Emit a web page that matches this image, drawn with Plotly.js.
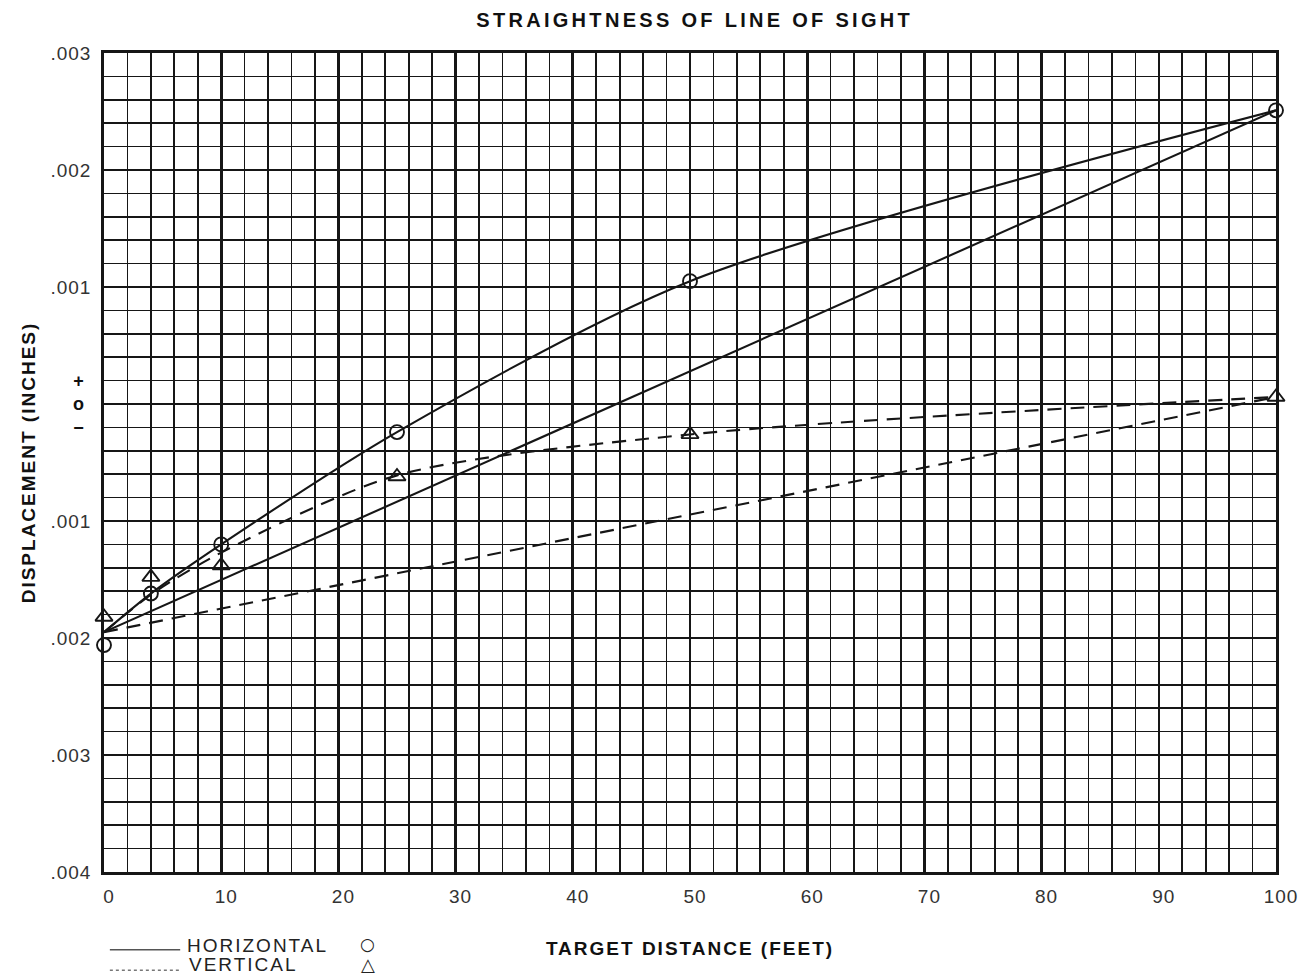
<!DOCTYPE html>
<html>
<head>
<meta charset="utf-8">
<script src="https://cdn.plot.ly/plotly-3.0.1.min.js"></script>
<style>
  html, body { margin: 0; padding: 0; background: #fff; }
  #chart { width: 1306px; height: 974px; }
  #chart .gtitle { letter-spacing: 3.3px; }
  #chart .xtitle, #chart .ytitle { letter-spacing: 2px; }
  #chart .xtick text, #chart .ytick text { letter-spacing: 1px; }
</style>
</head>
<body>
<div id="chart"></div>
<script>
// ---- data ----
const distance = [0, 4, 10, 25, 50, 100];                 // target distance (feet)
const horizPoints = [-0.00206, -0.00162, -0.00120, -0.00024, 0.00105, 0.00251];   // circles
const vertPoints  = [-0.00182, -0.00148, -0.00138, -0.00062, -0.00026, 0.00006];  // triangles

const horizCurveX = [0, 4, 10, 25, 50, 100];
const horizCurveY = [-0.00195, -0.00162, -0.00120, -0.00024, 0.00105, 0.00251];
const horizLineX  = [0, 100];
const horizLineY  = [-0.00195, 0.00251];

const vertCurveX = [0, 4, 10, 25, 50, 100];
const vertCurveY = [-0.00195, -0.00163, -0.00127, -0.00061, -0.00026, 0.00006];
const vertLineX  = [0, 100];
const vertLineY  = [-0.00195, 0.00006];

const yTickVals = [0.003, 0.002, 0.001, 0, -0.001, -0.002, -0.003, -0.004];
const yTickText = [".003", ".002", ".001", "", ".001", ".002", ".003", ".004"];

// ---- styling ----
const ink = '#161616';
const font = 'Liberation Sans, Arial, Helvetica, sans-serif';

const traces = [
  { x: horizCurveX, y: horizCurveY, mode: 'lines', line: {color: ink, width: 2.1, shape: 'spline', smoothing: 0.8}, hoverinfo: 'skip' },
  { x: horizLineX, y: horizLineY, mode: 'lines', line: {color: ink, width: 2.1}, hoverinfo: 'skip' },
  { x: vertCurveX, y: vertCurveY, mode: 'lines', line: {color: ink, width: 2.1, dash: '14px,9px', shape: 'spline', smoothing: 0.8}, hoverinfo: 'skip' },
  { x: vertLineX, y: vertLineY, mode: 'lines', line: {color: ink, width: 2.1, dash: '14px,9px'}, hoverinfo: 'skip' },
  { x: distance, y: horizPoints, mode: 'markers', cliponaxis: false,
    marker: {symbol: 'circle-open', size: 14, color: ink, line: {width: 1.9, color: ink}} },
  { x: distance, y: vertPoints, mode: 'markers', cliponaxis: false,
    marker: {symbol: 'triangle-up-open', size: 15, color: ink, line: {width: 1.9, color: ink}} }
];

const layout = {
  width: 1306, height: 974,
  margin: {l: 104, r: 30, t: 53, b: 102},
  paper_bgcolor: '#fff', plot_bgcolor: '#fff',
  showlegend: false,
  font: {family: font, color: '#222'},
  title: {
    text: 'STRAIGHTNESS OF LINE OF SIGHT',
    font: {family: font, size: 20, color: '#111', weight: 'bold'},
    xref: 'paper', x: 0.504, xanchor: 'center',
    yref: 'container', y: 0.979, yanchor: 'middle'
  },
  xaxis: {
    range: [0, 100], tickmode: 'linear', tick0: 0, dtick: 10, ticks: '', ticklabelstandoff: 5, ticklabelshift: 5,
    tickfont: {size: 19, color: '#333'},
    showgrid: true, gridcolor: ink, gridwidth: 2.6,
    minor: {dtick: 2, tick0: 0, showgrid: true, gridcolor: ink, gridwidth: 1.7},
    showline: true, linecolor: ink, linewidth: 2.8, mirror: true, zeroline: false,
    title: {text: 'TARGET DISTANCE (FEET)', font: {size: 19, color: '#111', weight: 'bold'}, standoff: 37}
  },
  yaxis: {
    range: [-0.004, 0.003], tickmode: 'array', tickvals: yTickVals, ticktext: yTickText, ticks: '',
    ticklabelstandoff: 6, tickfont: {size: 19, color: '#333'},
    showgrid: true, gridcolor: ink, gridwidth: 2.6,
    minor: {tickmode: 'linear', dtick: 0.0002, tick0: 0, showgrid: true, gridcolor: ink, gridwidth: 1.7},
    showline: true, linecolor: ink, linewidth: 2.8, mirror: true, zeroline: false,
    title: {text: 'DISPLACEMENT (INCHES)', font: {size: 19, color: '#111', weight: 'bold'}, standoff: 14}
  },
  annotations: [
    {xref: 'paper', yref: 'y', x: -0.022, y: 0, text: '+<br>o<br>−', showarrow: false,
     font: {family: font, size: 18, color: '#111', weight: 'bold'}, xanchor: 'center', yanchor: 'middle'},
    {xref: 'paper', yref: 'paper', x: 0.0775, y: -0.0895, text: 'HORIZONTAL', showarrow: false,
     xanchor: 'left', yanchor: 'middle', font: {family: font, size: 19, color: '#222'}},
    {xref: 'paper', yref: 'paper', x: 0.0775, y: -0.1125, text: 'VERTICAL', showarrow: false,
     xanchor: 'left', yanchor: 'middle', font: {family: font, size: 19, color: '#222'}},
    {xref: 'paper', yref: 'paper', x: 0.225, y: -0.088, text: '○', showarrow: false,
     xanchor: 'center', yanchor: 'middle', font: {family: 'DejaVu Sans', size: 17, color: '#222'}},
    {xref: 'paper', yref: 'paper', x: 0.225, y: -0.1135, text: '△', showarrow: false,
     xanchor: 'center', yanchor: 'middle', font: {family: 'DejaVu Sans', size: 18, color: '#222'}}
  ],
  shapes: [
    {type: 'line', xref: 'paper', yref: 'paper', x0: 0.005, x1: 0.065, y0: -0.095, y1: -0.095,
     line: {color: '#555', width: 1.6}},
    {type: 'line', xref: 'paper', yref: 'paper', x0: 0.005, x1: 0.065, y0: -0.12, y1: -0.12,
     line: {color: '#777', width: 1.6, dash: 'dot'}}
  ]
};

Plotly.newPlot('chart', traces, layout, {displayModeBar: false, staticPlot: true}).then(function () {
  // wider letter-spacing for the two legend words (annotations 1 and 2)
  const txt = document.querySelectorAll('#chart .annotation .annotation-text');
  [1, 2].forEach(function (i) { if (txt[i]) txt[i].style.letterSpacing = '2px'; });
});
</script>
</body>
</html>
